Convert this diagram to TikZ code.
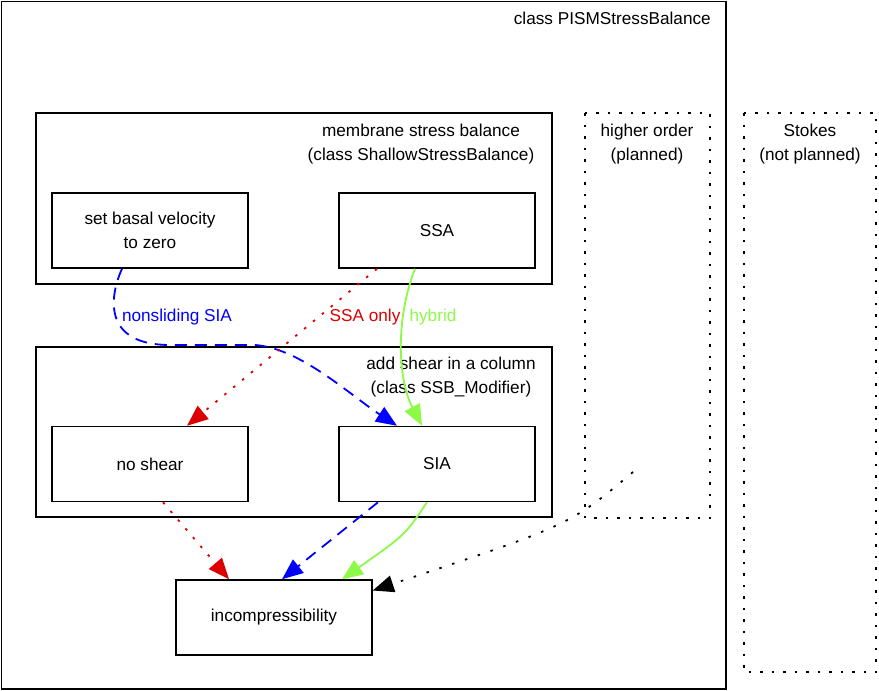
\documentclass[tikz,border=0pt]{standalone}
\usepackage{fontspec}
\setmainfont{Liberation Sans}
\usetikzlibrary{arrows.meta,calc}
\definecolor{myred}{RGB}{220,0,0}
\definecolor{myblue}{RGB}{0,0,255}
\definecolor{mygreen}{RGB}{140,250,70}
\begin{document}
\begin{tikzpicture}[x=1pt,y=-1pt,
  every node/.style={font=\fontsize{17.2}{24}\selectfont, inner sep=0pt},
  bx/.style={draw=black, line width=1.5pt, minimum width=196pt, minimum height=75pt, align=center},
  grp/.style={draw=black, line width=1.5pt},
  dotbox/.style={draw=black, line width=1.5pt, dash pattern=on 2.5pt off 9pt},
  lbl/.style={align=center},
  arrtip/.style={-{Triangle[length=21pt,width=17pt]}},
  redl/.style={arrtip, draw=myred, line width=1.8pt, dash pattern=on 2.5pt off 9pt},
  bluel/.style={arrtip, draw=myblue, line width=1.8pt, dash pattern=on 12pt off 8pt},
  greenl/.style={arrtip, draw=mygreen, line width=1.8pt},
  blackl/.style={arrtip, draw=black, line width=1.8pt, dash pattern=on 2.5pt off 11pt}
]
\useasboundingbox (0,0) rectangle (879,691);
% outer class box
\draw[grp] (1.5,1.5) rectangle (726,689);
\node[anchor=east] (title) at (711,18) {class PISMStressBalance};
% dotted boxes
\draw[dotbox] (585,113) rectangle (710,518);
\node[lbl] (hol) at (647,144) {higher order\\(planned)};
\draw[dotbox] (744,113) rectangle (876,672);
\node[lbl] (stl) at (810,144) {Stokes\\(not planned)};
% groups
\draw[grp] (36,113) rectangle (552,284);
\node[lbl] (meml) at (421,144) {membrane stress balance\\(class ShallowStressBalance)};
\draw[grp] (36,347) rectangle (552,517);
\node[lbl] (shl) at (451,377.5) {add shear in a column\\(class SSB\_Modifier)};
% boxes
\node[bx] (basal) at (150,230.5) {set basal velocity\\to zero};
\node[bx] (ssa) at (437,230.5) {SSA};
\node[bx] (noshear) at (150,464) {no shear};
\node[bx] (sia) at (437,464) {SIA};
\node[bx] (inc) at (274,617.5) {incompressibility};
\coordinate (hostart) at (633,472);
% connectors
\draw[bluel] ([xshift=-28pt]basal.south) .. controls (108,300) and (105,345) .. (170,345)
   -- (255,345) .. controls (300,348) and (350,395) .. ([xshift=-40pt]sia.north);
\node[text=myblue] (nsl) at (177,317) {nonsliding SIA};
\draw[redl] ([xshift=-60pt]ssa.south) -- ([xshift=37pt]noshear.north);
\node[text=myred] (sol) at (365,317) {SSA only};
\draw[greenl] ([xshift=-22pt]ssa.south) .. controls (395,320) and (398,380) .. ([xshift=-15pt]sia.north);
\node[text=mygreen] (hyl) at (433,317) {hybrid};
\draw[redl] ([xshift=13pt]noshear.south) -- ([xshift=-45pt]inc.north);
\draw[bluel] ([xshift=-59pt]sia.south) -- ([xshift=8pt]inc.north);
\draw[greenl] ([xshift=-10pt]sia.south) .. controls (405,535) .. ([xshift=68pt]inc.north);
\draw[blackl] (hostart) .. controls (570,525) .. ([yshift=27pt]inc.east);
\end{tikzpicture}
\end{document}
